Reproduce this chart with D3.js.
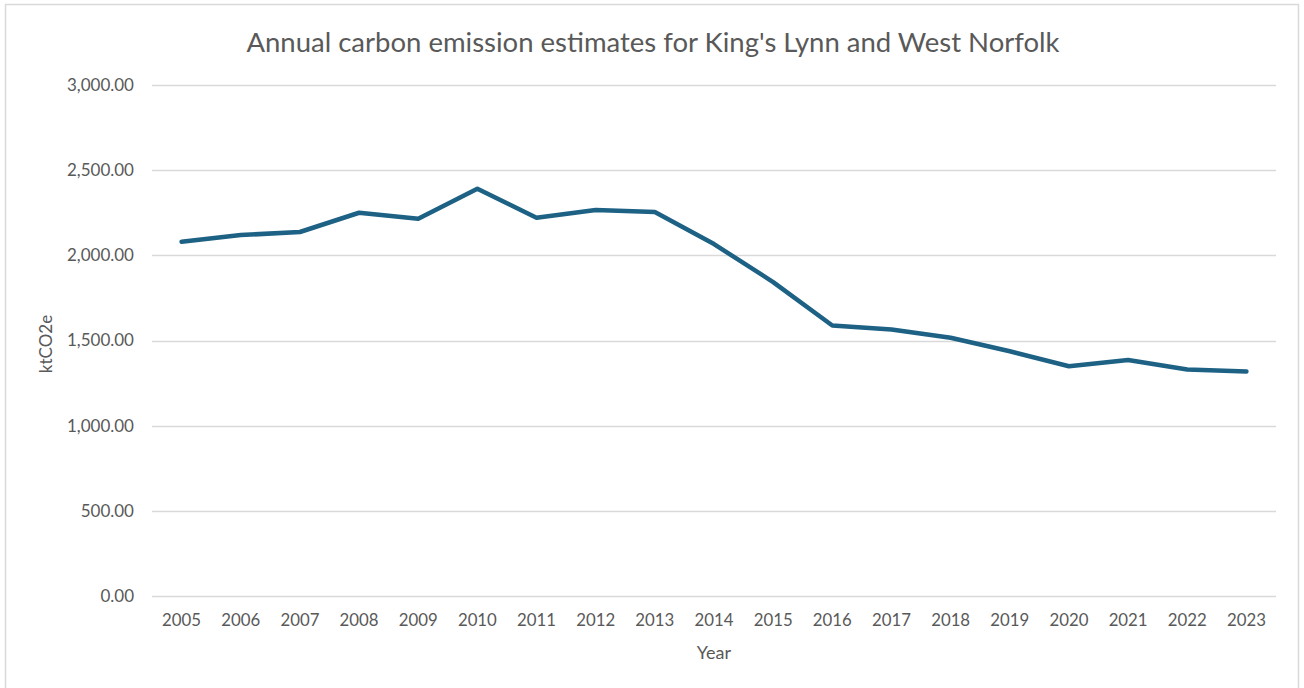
<!DOCTYPE html>
<html>
<head>
<meta charset="utf-8">
<script src="https://cdn.jsdelivr.net/npm/d3@7"></script>
<style>
  html, body { margin: 0; padding: 0; background: #fff; }
  svg { display: block; }
  text { font-family: Lato, "Open Sans", sans-serif; fill: #595959; }
</style>
</head>
<body>
<svg id="chart" width="1304" height="688"></svg>
<script>
// Annual emissions, ktCO2e
const years = ["2005","2006","2007","2008","2009","2010","2011","2012","2013","2014",
               "2015","2016","2017","2018","2019","2020","2021","2022","2023"];
const emissions = [2080, 2119, 2137, 2250, 2215, 2391, 2221, 2266, 2254, 2066,
                   1843, 1588, 1565, 1516, 1437, 1349, 1385, 1330, 1318];
const yTicks = [0, 500, 1000, 1500, 2000, 2500, 3000];

const title = "Annual carbon emission estimates for King's Lynn and West Norfolk";
const xTitle = "Year";
const yTitle = "ktCO2e";

const W = 1304, H = 688;
const margin = { left: 152, right: 28, top: 85, bottom: 92 };

const svg = d3.select("#chart");

// Outer chart frame
svg.append("rect")
  .attr("x", 5.5).attr("y", 4.5)
  .attr("width", 1293).attr("height", 700)
  .attr("fill", "#fff")
  .attr("stroke", "#d9d9d9")
  .attr("stroke-width", 1.5);

const x = d3.scaleBand()
  .domain(years)
  .range([margin.left, W - margin.right]);

const y = d3.scaleLinear()
  .domain([0, 3000])
  .range([H - margin.bottom, margin.top]);

// Horizontal gridlines
svg.append("g")
  .selectAll("line")
  .data(yTicks)
  .join("line")
  .attr("x1", margin.left)
  .attr("x2", W - margin.right)
  .attr("y1", d => Math.round(y(d)) + 0.5)
  .attr("y2", d => Math.round(y(d)) + 0.5)
  .attr("stroke", "#d9d9d9")
  .attr("stroke-width", 1.3);

// Y axis labels
const fmt = d3.format(",.2f");
const yAxis = d3.axisLeft(y)
  .tickValues(yTicks)
  .tickFormat(fmt)
  .tickSize(0)
  .tickPadding(18);
const gy = svg.append("g")
  .attr("transform", `translate(${margin.left},0)`)
  .call(yAxis);
gy.select(".domain").remove();
gy.selectAll("text")
  .attr("font-size", 17)
  .attr("fill", "#595959")
  .style("font-family", "Lato, 'Open Sans', sans-serif");

// X axis labels
const xAxis = d3.axisBottom(x).tickSize(0).tickPadding(18);
const gx = svg.append("g")
  .attr("transform", `translate(0,${H - margin.bottom})`)
  .call(xAxis);
gx.select(".domain").remove();
gx.selectAll("text")
  .attr("font-size", 16.8)
  .attr("fill", "#595959")
  .style("font-family", "Lato, 'Open Sans', sans-serif");

// Emissions line
const line = d3.line()
  .x((d, i) => x(years[i]) + x.bandwidth() / 2)
  .y(d => y(d));

svg.append("path")
  .datum(emissions)
  .attr("d", line)
  .attr("fill", "none")
  .attr("stroke", "#1d6184")
  .attr("stroke-width", 4.5)
  .attr("stroke-linejoin", "round")
  .attr("stroke-linecap", "round");

// Titles
svg.append("text")
  .attr("x", 653).attr("y", 52)
  .attr("text-anchor", "middle")
  .attr("font-size", 27.5)
  .text(title);

svg.append("text")
  .attr("x", 714).attr("y", 659)
  .attr("text-anchor", "middle")
  .attr("font-size", 18)
  .text(xTitle);

svg.append("text")
  .attr("transform", "translate(52,344) rotate(-90)")
  .attr("text-anchor", "middle")
  .attr("font-size", 17)
  .text(yTitle);
</script>
</body>
</html>
